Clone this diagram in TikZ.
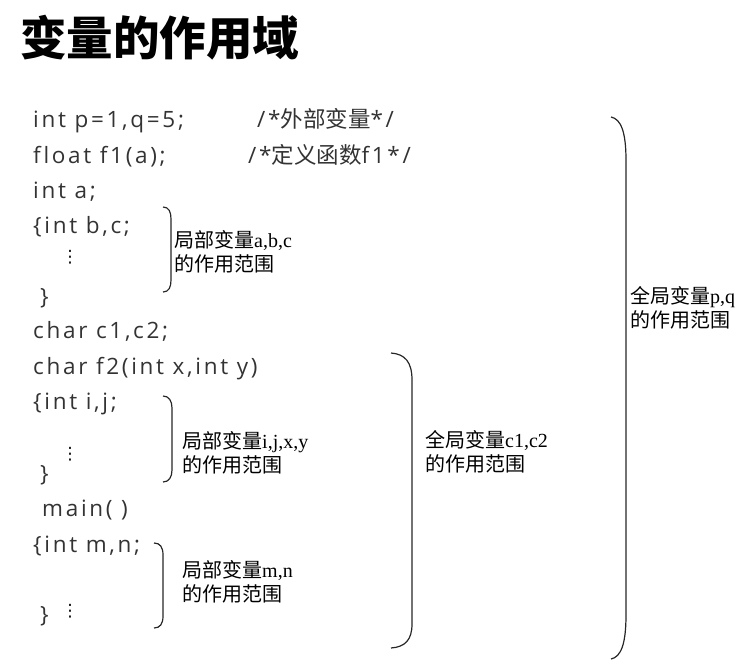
\documentclass[tikz,border=0pt]{standalone}
\usepackage{fontspec}
\usepackage{xcolor}
\usepackage{tikz}
\setmainfont{Open Sans}
\newfontfamily\codefont[LetterSpace=12,Ligatures=NoCommon]{Open Sans}
\newfontfamily\cjk{Noto Sans CJK SC}
\newfontfamily\labfont{Liberation Serif}
\newfontfamily\symfont{DejaVu Sans}
\definecolor{codegray}{HTML}{333333}
\definecolor{bracegray}{HTML}{262626}

\begin{document}
\begin{tikzpicture}[x=1pt,y=-1pt, every node/.style={inner sep=0pt}, code/.style={anchor=base west,text=codegray,font=\fontsize{22.5}{25}\codefont}, dts/.style={anchor=center,text=black,font=\fontsize{17}{17}\symfont}, scopelabel/.style={anchor=west,align=left,font=\fontsize{20}{24}\selectfont\labfont}, scopebrace/.style={draw=bracegray,line width=1.2pt}]
\useasboundingbox (0,0) rectangle (756,664);
\node[anchor=base west,font=\fontsize{46.5}{50}\selectfont\cjk\bfseries] (title) at (20,55) {变量的作用域};
% code lines
\node[code] (l1) at (33,127) {int p=1,q=5;};
\node[code] (c1) at (257,127) {/*{\cjk 外部变量}*/};
\node[code] (l2) at (33,163) {float f1(a);};
\node[code] (c2) at (248,163) {/*{\cjk 定义函数}f1*/};
\node[code] (l3) at (33,198) {int a;};
\node[code] (l4) at (33,233) {\{int b,c;};
\node[dts] (d1) at (70,257) {⋮};
\node[code] (l5) at (40,304) {\}};
\node[code] (l6) at (33,338) {char c1,c2;};
\node[code] (l7) at (33,374) {char f2(int x,int y)};
\node[code] (l8) at (33,409) {\{int i,j;};
\node[dts] (d2) at (70,454) {⋮};
\node[code] (l9) at (40,481) {\}};
\node[code] (l10) at (42,516) {main( )};
\node[code] (l11) at (33,552) {\{int m,n;};
\node[code] (l12) at (40,622) {\}};
\node[dts] (d3) at (70,611) {⋮};
% scope braces
\draw[scopebrace] (163,207) .. controls (169,207) and (171,212) .. (171,219) -- (171,280) .. controls (171,287) and (169,292) .. (163,292);
\draw[scopebrace] (163,396) .. controls (169,396) and (172,401) .. (172,408) -- (172,470) .. controls (172,477) and (169,482) .. (163,482);
\draw[scopebrace] (154,543) .. controls (160,543) and (163,547) .. (163,555) -- (163,616) .. controls (163,624) and (160,628) .. (154,628);
\draw[scopebrace] (391,353) .. controls (405,354) and (412,362) .. (412,380) -- (412,624) .. controls (412,640) and (405,647) .. (391,648);
\draw[scopebrace] (611,117) .. controls (621,119) and (626,132) .. (626,160) -- (626,615) .. controls (626,644) and (621,657) .. (611,659);
% scope labels
\node[scopelabel] (s1) at (174,252) {{\cjk 局部变量}a,b,c\\{\cjk 的作用范围}};
\node[scopelabel] (s2) at (182,453) {{\cjk 局部变量}i,j,x,y\\{\cjk 的作用范围}};
\node[scopelabel] (s3) at (182,582) {{\cjk 局部变量}m,n\\{\cjk 的作用范围}};
\node[scopelabel] (s4) at (425,452) {{\cjk 全局变量}c1,c2\\{\cjk 的作用范围}};
\node[scopelabel] (s5) at (630,308) {{\cjk 全局变量}p,q\\{\cjk 的作用范围}};
\end{tikzpicture}
\end{document}
